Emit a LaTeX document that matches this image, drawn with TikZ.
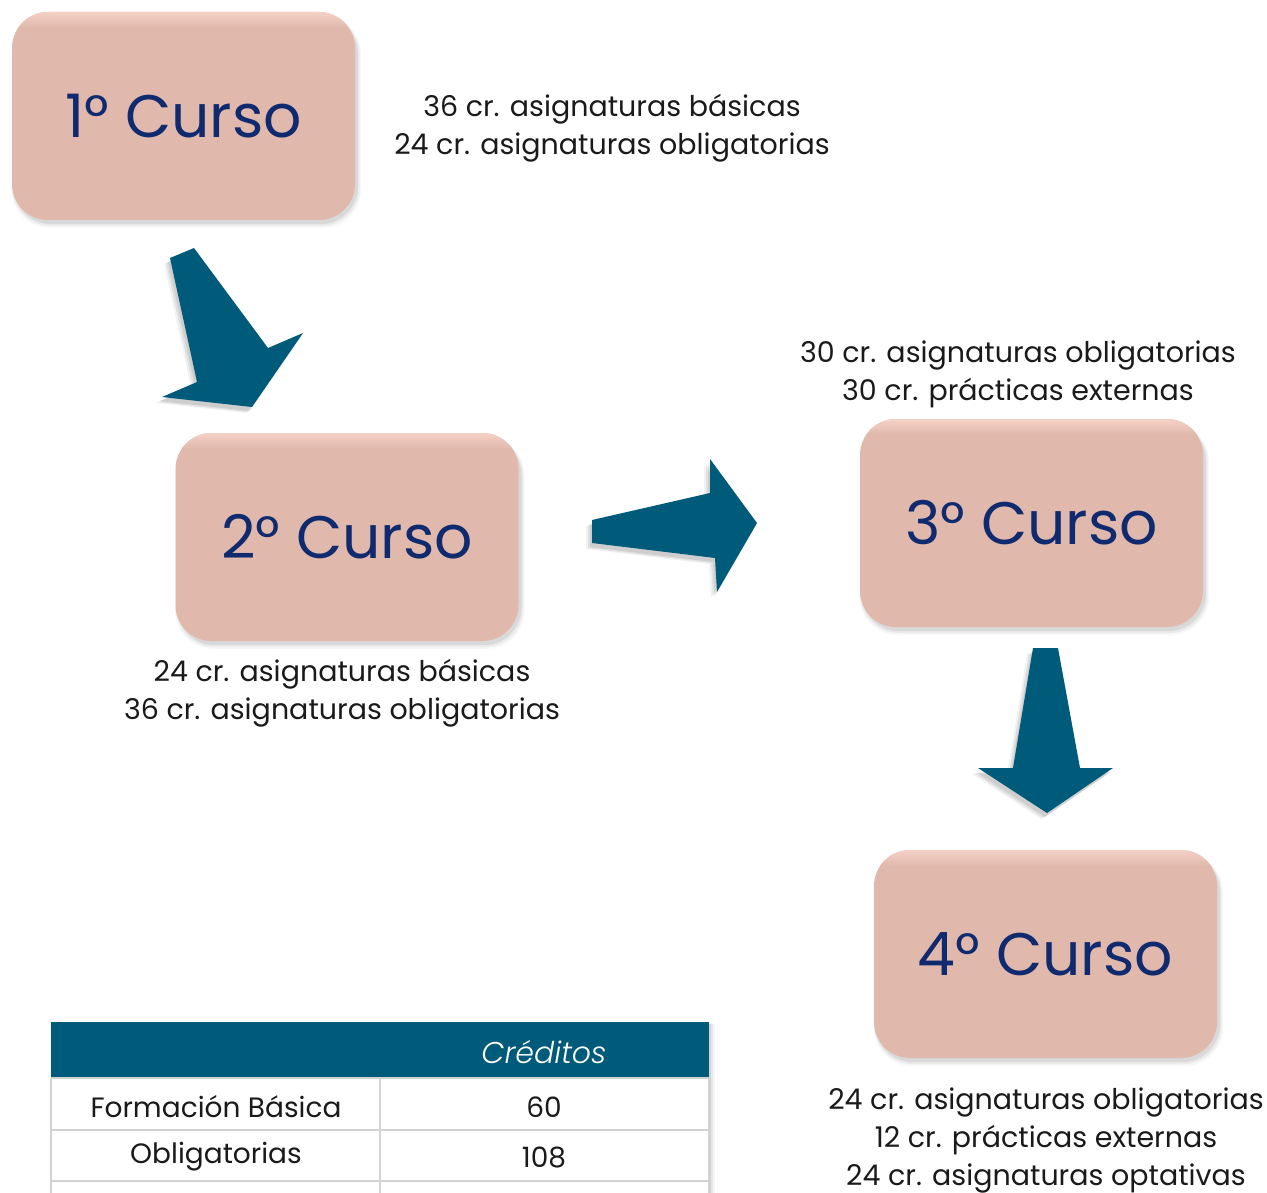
\documentclass[tikz,border=0pt]{standalone}
\usepackage{fontspec}
\setmainfont{Poppins}[UprightFont=* Light, ItalicFont=* Light Italic, BoldFont=* Medium]
\newfontfamily\popreg{Poppins}
\usetikzlibrary{calc}
\definecolor{boxfill}{HTML}{E0B8AC}
\definecolor{boxtop}{HTML}{F6D2C6}
\definecolor{navy}{HTML}{0F2A6E}
\definecolor{teal}{HTML}{005A7A}
\definecolor{gridc}{HTML}{D2D2D2}
\definecolor{txt}{HTML}{1A1A1A}
\tikzset{
  cursotext/.style={text=navy, font=\popreg\fontsize{60}{70}\selectfont, inner sep=0pt},
  info/.style={text=txt, font=\popreg\fontsize{28.5}{38}\selectfont, align=center, inner sep=0pt},
  blockarrow/.style={fill=teal},
  cell/.style={text=txt, font=\popreg\fontsize{28}{34}\selectfont, inner sep=0pt},
  gridline/.style={draw=gridc, line width=2.5pt},
}
\newcommand{\cursobox}[4]{% name, cx, cy, label
  \foreach \k/\o in {8/0.03,5/0.05,2/0.07}{
    \fill[black, opacity=\o, rounded corners=38pt]
      ($(#2,#3)+(-171.5-\k*0.3+2,-104+4)$) rectangle ($(#2,#3)+(171.5+\k*0.5+2,104+\k*0.6+3)$);
  }
  \fill[boxfill, rounded corners=36pt] ($(#2,#3)+(-171.5,-104)$) rectangle ($(#2,#3)+(171.5,104)$);
  \begin{scope}
    \clip[rounded corners=36pt] ($(#2,#3)+(-171.5,-104)$) rectangle ($(#2,#3)+(171.5,104)$);
    \shade[top color=boxtop, bottom color=boxfill] ($(#2,#3)+(-172,-105)$) rectangle ($(#2,#3)+(172,-88)$);
  \end{scope}
  \node[cursotext] (#1) at (#2,#3) {#4};
}
\begin{document}
\begin{tikzpicture}[x=1pt,y=-1pt]
\useasboundingbox (0,0) rectangle (1267,1193);
\fill[white] (0,0) rectangle (1267,1193);

% course boxes
\cursobox{c1}{183.5}{116}{1° Curso}
\cursobox{c2}{347}{537}{2° Curso}
\cursobox{c3}{1031.5}{523}{3° Curso}
\cursobox{c4}{1045.5}{954}{4° Curso}

% info texts
\node[info] (t1) at (612,128) {36 cr. asignaturas básicas\\24 cr. asignaturas obligatorias};
\node[info] (t2) at (342,693) {24 cr. asignaturas básicas\\36 cr. asignaturas obligatorias};
\node[info] (t3) at (1018,374) {30 cr. asignaturas obligatorias\\30 cr. prácticas externas};
\node[info] (t4) at (1046,1140) {24 cr. asignaturas obligatorias\\12 cr. prácticas externas\\24 cr. asignaturas optativas};

% block arrows (shadow + shape)
\foreach \dx/\dy/\o in {-6/6/0.05,-4/5/0.07,-2/4/0.08}{
  \fill[black, opacity=\o] ($(170,258)+(\dx,\dy)$) -- ($(194,248)+(\dx,\dy)$) -- ($(268,348)+(\dx,\dy)$) -- ($(303,333)+(\dx,\dy)$) -- ($(252,407)+(\dx,\dy)$) -- ($(162,397)+(\dx,\dy)$) -- ($(197,382)+(\dx,\dy)$) -- cycle;
  \fill[black, opacity=\o] ($(592,520)+(\dx,\dy)$) -- ($(710,493)+(\dx,\dy)$) -- ($(710,459)+(\dx,\dy)$) -- ($(757,523)+(\dx,\dy)$) -- ($(717,592)+(\dx,\dy)$) -- ($(715,558)+(\dx,\dy)$) -- ($(592,543)+(\dx,\dy)$) -- cycle;
  \fill[black, opacity=\o] ($(1033,648)+(\dx,\dy)$) -- ($(1058,648)+(\dx,\dy)$) -- ($(1080,768)+(\dx,\dy)$) -- ($(1113,768)+(\dx,\dy)$) -- ($(1047,813)+(\dx,\dy)$) -- ($(978,768)+(\dx,\dy)$) -- ($(1013,768)+(\dx,\dy)$) -- cycle;
}
\fill[blockarrow] (170,258) -- (194,248) -- (268,348) -- (303,333) -- (252,407) -- (162,397) -- (197,382) -- cycle;
\fill[blockarrow] (592,520) -- (710,493) -- (710,459) -- (757,523) -- (717,592) -- (715,558) -- (592,543) -- cycle;
\fill[blockarrow] (1033,648) -- (1058,648) -- (1080,768) -- (1113,768) -- (1047,813) -- (978,768) -- (1013,768) -- cycle;

% table
\foreach \k/\o in {6/0.04,4/0.06,2/0.08}{
  \fill[black, opacity=\o] (709,1024) rectangle (709+\k,1200);
}
\fill[teal] (51,1022) rectangle (709,1078);
\fill[white] (51,1078) rectangle (709,1200);
\draw[gridline] (51,1078) -- (709,1078);
\draw[gridline] (51,1130) -- (709,1130);
\draw[gridline] (51,1181) -- (709,1181);
\draw[gridline] (380,1078) -- (380,1200);
\draw[gridline] (709,1078) -- (709,1200);
\draw[gridline] (51,1078) -- (51,1200);
\node[cell, text=white, font=\fontsize{30}{34}\selectfont\itshape] (hcred) at (544,1052) {Créditos};
\node[cell] (r1a) at (216,1107) {Formación Básica};
\node[cell] (r1b) at (544,1107) {60};
\node[cell] (r2a) at (216,1157) {Obligatorias};
\node[cell] (r2b) at (544,1157) {108};
\end{tikzpicture}
\end{document}
